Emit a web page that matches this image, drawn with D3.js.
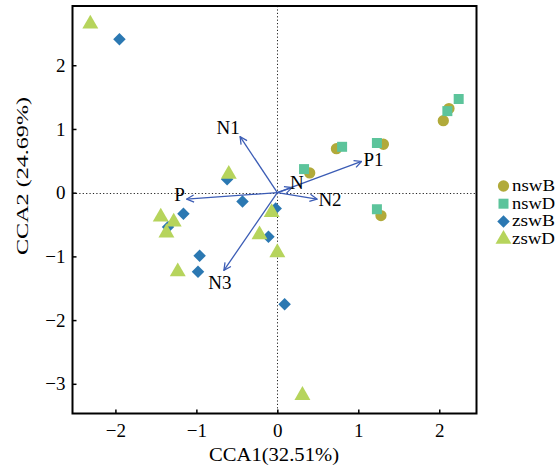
<!DOCTYPE html>
<html><head><meta charset="utf-8">
<script src="https://cdn.jsdelivr.net/npm/d3@7"></script>
<style>body{margin:0;background:#fff}</style>
</head><body>
<script>
const xTicks = [-2, -1, 0, 1, 2];
const yTicks = [2, 1, 0, -1, -2, -3];
const groups = ["nswB", "nswD", "zswB", "zswD"];
const nswB = [[2.12,1.32],[2.05,1.13],[0.73,0.69],[1.31,0.76],[0.40,0.31],[1.28,-0.36]];
const nswD = [[2.24,1.47],[2.10,1.28],[0.80,0.72],[1.23,0.78],[0.33,0.37],[1.23,-0.26]];
const zswB = [[-1.95,2.41],[-0.62,0.21],[-0.43,-0.14],[-1.16,-0.33],[-1.35,-0.54],[-0.02,-0.25],[-0.11,-0.69],[-0.96,-0.99],[-0.98,-1.24],[0.09,-1.75]];
const zswD = [[-2.31,2.65],[-0.60,0.29],[-1.44,-0.38],[-1.28,-0.46],[-1.37,-0.63],[-1.23,-1.24],[-0.07,-0.31],[-0.22,-0.66],[0.00,-0.94],[0.31,-3.18]];
const envNames = ["N1", "P", "N", "P1", "N2", "N3"];
const envX = [-0.46, -1.12, 0.18, 1.04, 0.49, -0.66];
const envY = [0.88, -0.10, 0.08, 0.49, -0.10, -1.22];

const W = 558, H = 467;
const L = 72.5, R = 476.5, T = 6, B = 413.5;
const svg = d3.select("body").append("svg").attr("width", W).attr("height", H);
const x = d3.scaleLinear().domain([-2.53, 2.46]).range([L, R]);
const y = d3.scaleLinear().domain([2.93, -3.466]).range([T, B]);
const serif = "'Liberation Serif','DejaVu Serif',serif";

// dotted zero lines
svg.append("line").attr("x1", L).attr("x2", R).attr("y1", Math.round(y(0))+0.5).attr("y2", Math.round(y(0))+0.5)
  .attr("stroke", "#222").attr("stroke-width", 1).attr("stroke-dasharray", "1.2,2.2");
svg.append("line").attr("y1", T).attr("y2", B).attr("x1", Math.round(x(0))+0.5).attr("x2", Math.round(x(0))+0.5)
  .attr("stroke", "#222").attr("stroke-width", 1).attr("stroke-dasharray", "1.2,2.2");

// axes
const fmt = d => d < 0 ? "\u2212" + Math.abs(d) : d;
const ax = svg.append("g").attr("transform", `translate(0,${B})`)
  .call(d3.axisBottom(x).tickValues(xTicks).tickSize(-4).tickPadding(10).tickFormat(fmt));
const ay = svg.append("g").attr("transform", `translate(${L},0)`)
  .call(d3.axisLeft(y).tickValues(yTicks).tickSize(-4).tickPadding(7).tickFormat(fmt));
[ax, ay].forEach(g => {
  g.select(".domain").remove();
  g.selectAll(".tick line").attr("stroke", "#000").attr("stroke-width", 1.5);
  g.selectAll(".tick text").attr("font-family", serif).attr("font-size", 19).attr("fill", "#000");
});
svg.append("rect").attr("x", L).attr("y", T).attr("width", R - L).attr("height", B - T)
  .attr("fill", "none").attr("stroke", "#000").attr("stroke-width", 2);

// axis titles
svg.append("text").attr("x", (L + R) / 2 - 0.5).attr("y", 461).attr("text-anchor", "middle")
  .attr("font-family", serif).attr("font-size", 18).attr("textLength", 130).attr("lengthAdjust", "spacingAndGlyphs")
  .text("CCA1(32.51%)");
svg.append("text").attr("transform", `translate(28,176) rotate(-90)`).attr("text-anchor", "middle")
  .attr("font-family", serif).attr("font-size", 17).attr("textLength", 158).attr("lengthAdjust", "spacingAndGlyphs")
  .text("CCA2 (24.69%)");

// arrows
const arrowColor = "#3b5cb5";
svg.append("defs").append("marker").attr("id", "ah").attr("viewBox", "0 0 10 10")
  .attr("refX", 9).attr("refY", 5).attr("markerWidth", 9).attr("markerHeight", 9)
  .attr("markerUnits", "userSpaceOnUse").attr("orient", "auto")
  .append("path").attr("d", "M1,1 L9,5 L1,9").attr("fill", "none").attr("stroke", arrowColor).attr("stroke-width", 1.4);

const colors = {nswB: "#b1aa3a", nswD: "#5cc49b", zswB: "#2b78b2", zswD: "#b6d45c"};
const sym = {
  nswB: d3.symbol().type(d3.symbolCircle).size(100),
  nswD: d3.symbol().type(d3.symbolSquare).size(100),
  zswB: d3.symbol().type(d3.symbolSquare).size(78),
  zswD: d3.symbol().type(d3.symbolTriangle).size(110)
};
const rot = g => g === "zswB" ? " rotate(45)" : "";
const data = {nswB, nswD, zswB, zswD};
["zswB", "zswD", "nswB", "nswD"].forEach(g => {
  svg.append("g").selectAll("path").data(data[g]).join("path")
    .attr("transform", d => `translate(${x(d[0])},${y(d[1])})` + rot(g))
    .attr("d", sym[g]()).attr("fill", colors[g]);
});

envNames.forEach((n, i) => {
  svg.append("line").attr("x1", x(0)).attr("y1", y(0)).attr("x2", x(envX[i])).attr("y2", y(envY[i]))
    .attr("stroke", arrowColor).attr("stroke-width", 1.3).attr("marker-end", "url(#ah)");
});
const labOff = {N1: [-12, -9], P: [-7, -4], N: [5, -5], P1: [12, -1], N2: [13, 1], N3: [-4, 13]};
envNames.forEach((n, i) => {
  svg.append("text").attr("x", x(envX[i]) + labOff[n][0]).attr("y", y(envY[i]) + labOff[n][1] + 6)
    .attr("text-anchor", "middle").attr("font-family", serif).attr("font-size", 19).text(n);
});

// legend
groups.forEach((g, i) => {
  const ly = 186 + i * 17.7;
  svg.append("path").attr("transform", `translate(503.5,${ly})` + rot(g)).attr("d", sym[g]()).attr("fill", colors[g]);
  svg.append("text").attr("x", 512).attr("y", ly + 5).attr("font-family", serif).attr("font-size", 16)
    .attr("textLength", 43).attr("lengthAdjust", "spacingAndGlyphs").text(g);
});
</script>
</body></html>
